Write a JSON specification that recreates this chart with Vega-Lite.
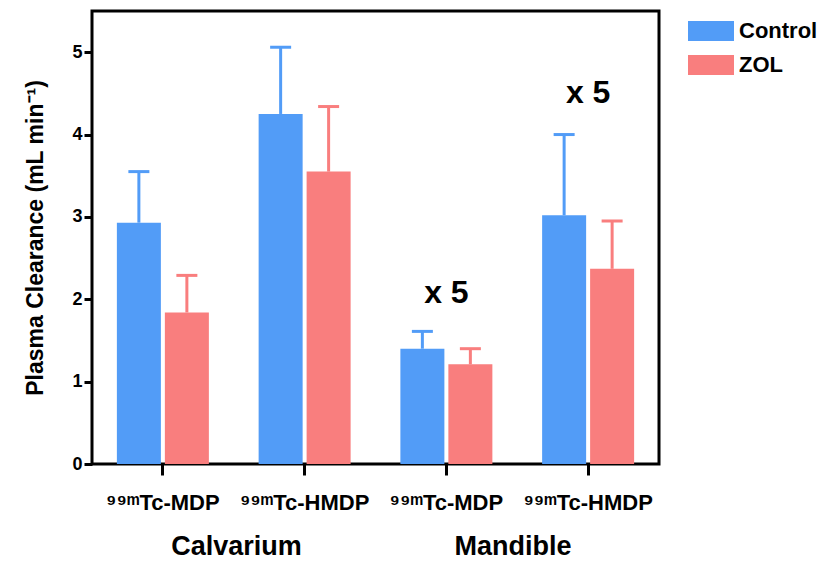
{
  "$schema": "https://vega.github.io/schema/vega-lite/v6.json",
  "width": 567,
  "height": 453,
  "autosize": {"type": "none"},
  "padding": {"left": 92, "top": 11, "right": 165, "bottom": 97},
  "background": "white",
  "config": {
    "view": {"stroke": "black", "strokeWidth": 3},
    "font": "Liberation Sans",
    "axis": {"labelColor": "black", "titleColor": "black", "tickColor": "black", "grid": false, "domain": false}
  },
  "datasets": {
    "bars": [
      {"g": "Calvarium|⁹⁹ᵐTc-MDP", "treatment": "Control", "value": 2.93, "upper": 3.55},
      {"g": "Calvarium|⁹⁹ᵐTc-MDP", "treatment": "ZOL", "value": 1.84, "upper": 2.29},
      {"g": "Calvarium|⁹⁹ᵐTc-HMDP", "treatment": "Control", "value": 4.25, "upper": 5.06},
      {"g": "Calvarium|⁹⁹ᵐTc-HMDP", "treatment": "ZOL", "value": 3.55, "upper": 4.34},
      {"g": "Mandible|⁹⁹ᵐTc-MDP", "treatment": "Control", "value": 1.40, "upper": 1.61},
      {"g": "Mandible|⁹⁹ᵐTc-MDP", "treatment": "ZOL", "value": 1.21, "upper": 1.40},
      {"g": "Mandible|⁹⁹ᵐTc-HMDP", "treatment": "Control", "value": 3.02, "upper": 4.00},
      {"g": "Mandible|⁹⁹ᵐTc-HMDP", "treatment": "ZOL", "value": 2.37, "upper": 2.95}
    ],
    "notes": [
      {"g": "Mandible|⁹⁹ᵐTc-MDP", "text": "x 5", "y": 1.95},
      {"g": "Mandible|⁹⁹ᵐTc-HMDP", "text": "x 5", "y": 4.38}
    ],
    "regions": [
      {"region": "Calvarium", "pos": 1.02, "y": -1.1},
      {"region": "Mandible", "pos": 2.97, "y": -1.1}
    ]
  },
  "layer": [
    {
      "encoding": {
        "x": {
          "field": "g",
          "type": "nominal",
          "scale": {
            "domain": ["Calvarium|⁹⁹ᵐTc-MDP", "Calvarium|⁹⁹ᵐTc-HMDP", "Mandible|⁹⁹ᵐTc-MDP", "Mandible|⁹⁹ᵐTc-HMDP"],
            "paddingInner": 0.351,
            "paddingOuter": 0.1755
          },
          "axis": {
            "title": null,
            "labelExpr": "split(datum.label, '|')[1]",
            "labelAngle": 0,
            "labelFontSize": 22,
            "labelFontWeight": "bold",
            "labelPadding": 17,
            "tickSize": 11,
            "tickWidth": 3
          }
        }
      },
      "layer": [
        {
          "data": {"name": "bars"},
          "mark": {"type": "bar"},
          "encoding": {
            "xOffset": {"field": "treatment", "type": "nominal", "scale": {"domain": ["Control", "ZOL"], "paddingInner": 0.083, "paddingOuter": 0}},
            "y": {
              "field": "value",
              "type": "quantitative",
              "scale": {"domain": [0, 5.5], "nice": false},
              "axis": {
                "title": "Plasma Clearance (mL min⁻¹)",
                "values": [0, 1, 2, 3, 4, 5],
                "format": "d",
                "labelFontSize": 18,
                "labelFontWeight": "bold",
                "labelPadding": 2,
                "tickSize": 8,
                "tickWidth": 3,
                "titleFontSize": 23,
                "titleFontWeight": "bold",
                "titlePadding": 24
              }
            },
            "color": {
              "field": "treatment",
              "type": "nominal",
              "scale": {"domain": ["Control", "ZOL"], "range": ["#529CF7", "#F97E7E"]},
              "legend": {
                "title": null,
                "orient": "none",
                "legendX": 608,
                "legendY": 9,
                "symbolType": "M-2.3,-1L2.3,-1L2.3,1L-2.3,1Z",
                "symbolSize": 400,
                "symbolStrokeWidth": 0,
                "symbolOpacity": 1,
                "labelFontSize": 22,
                "labelFontWeight": "bold",
                "labelColor": "black",
                "labelOffset": 17,
                "rowPadding": 12
              }
            }
          }
        },
        {
          "data": {"name": "bars"},
          "mark": {"type": "rule", "strokeWidth": 3},
          "encoding": {
            "xOffset": {"field": "treatment", "type": "nominal", "scale": {"domain": ["Control", "ZOL"], "paddingInner": 0.083, "paddingOuter": 0}},
            "y": {"field": "value", "type": "quantitative"},
            "y2": {"field": "upper"},
            "color": {"field": "treatment", "type": "nominal", "legend": null}
          }
        },
        {
          "data": {"name": "bars"},
          "mark": {"type": "tick", "thickness": 3, "size": 21, "opacity": 1},
          "encoding": {
            "xOffset": {"field": "treatment", "type": "nominal", "scale": {"domain": ["Control", "ZOL"], "paddingInner": 0.083, "paddingOuter": 0}},
            "y": {"field": "upper", "type": "quantitative"},
            "color": {"field": "treatment", "type": "nominal", "legend": null}
          }
        },
        {
          "data": {"name": "notes"},
          "mark": {"type": "text", "fontSize": 32, "fontWeight": "bold", "baseline": "alphabetic", "color": "black"},
          "encoding": {
            "y": {"field": "y", "type": "quantitative"},
            "text": {"field": "text"}
          }
        }
      ]
    },
    {
      "data": {"name": "regions"},
      "mark": {"type": "text", "fontSize": 27, "fontWeight": "bold", "baseline": "alphabetic", "color": "black"},
      "encoding": {
        "x": {"field": "pos", "type": "quantitative", "scale": {"domain": [0, 4], "nice": false}, "axis": null},
        "y": {"field": "y", "type": "quantitative"},
        "text": {"field": "region"}
      }
    }
  ],
  "resolve": {"scale": {"x": "independent"}}
}
